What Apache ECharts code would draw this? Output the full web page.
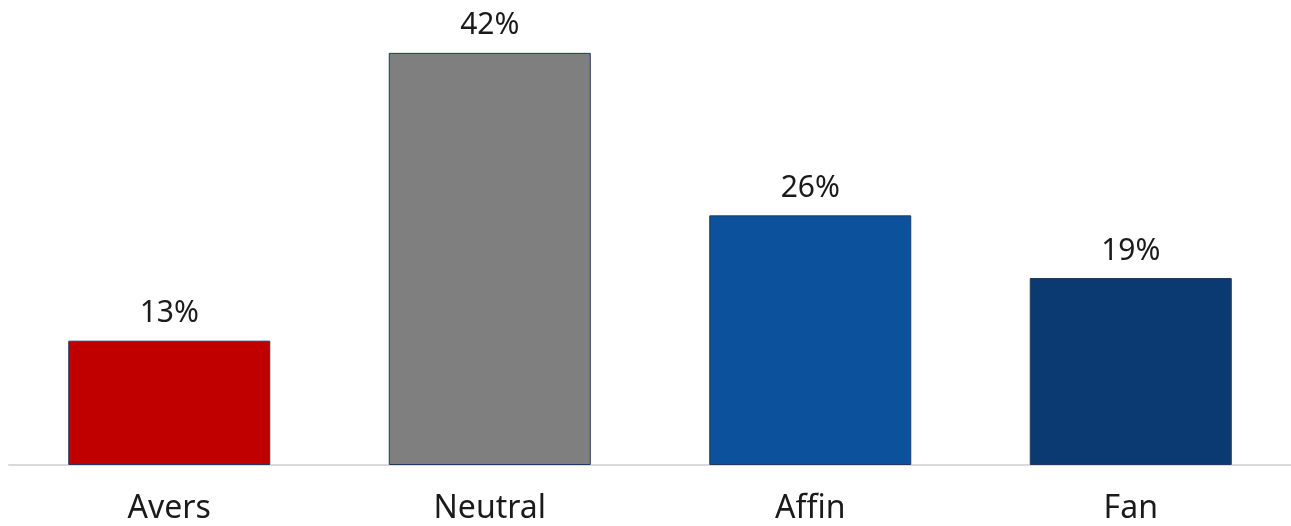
<!DOCTYPE html>
<html>
<head>
<meta charset="utf-8">
<script src="https://cdn.jsdelivr.net/npm/echarts@6/dist/echarts.min.js"></script>
<style>
html,body{margin:0;padding:0;background:#fff;}
#chart{width:1291px;height:526px;}
</style>
</head>
<body>
<div id="chart"></div>
<script>
const categories = ['Avers', 'Neutral', 'Affin', 'Fan'];
const values = [12.7, 42.1, 25.5, 19.1];
const barColors = ['#c00000', '#7f7f7f', '#0b519c', '#0a3a71'];

const chart = echarts.init(document.getElementById('chart'));
chart.setOption({
  animation: false,
  grid: { left: 9, width: 1284, top: 0, bottom: 61, containLabel: false },
  xAxis: {
    type: 'category',
    data: categories,
    axisLine: { lineStyle: { color: '#d9d9d9', width: 2 } },
    axisTick: { show: false },
    axisLabel: { color: '#1a1a1a', fontSize: 32, fontFamily: 'Noto Sans', margin: 28 }
  },
  yAxis: {
    type: 'value', min: 0, max: 47.5,
    show: false, splitLine: { show: false }
  },
  series: [{
    type: 'bar',
    barWidth: 202,
    data: values.map((v, i) => ({ value: v, itemStyle: { color: barColors[i] } })),
    itemStyle: { borderColor: '#1f3a60', borderWidth: 1 },
    label: {
      show: true, position: 'top', distance: 12,
      color: '#1a1a1a', fontSize: 30, fontFamily: 'Noto Sans',
      formatter: p => Math.round(p.value) + '%'
    }
  }]
});
</script>
</body>
</html>
